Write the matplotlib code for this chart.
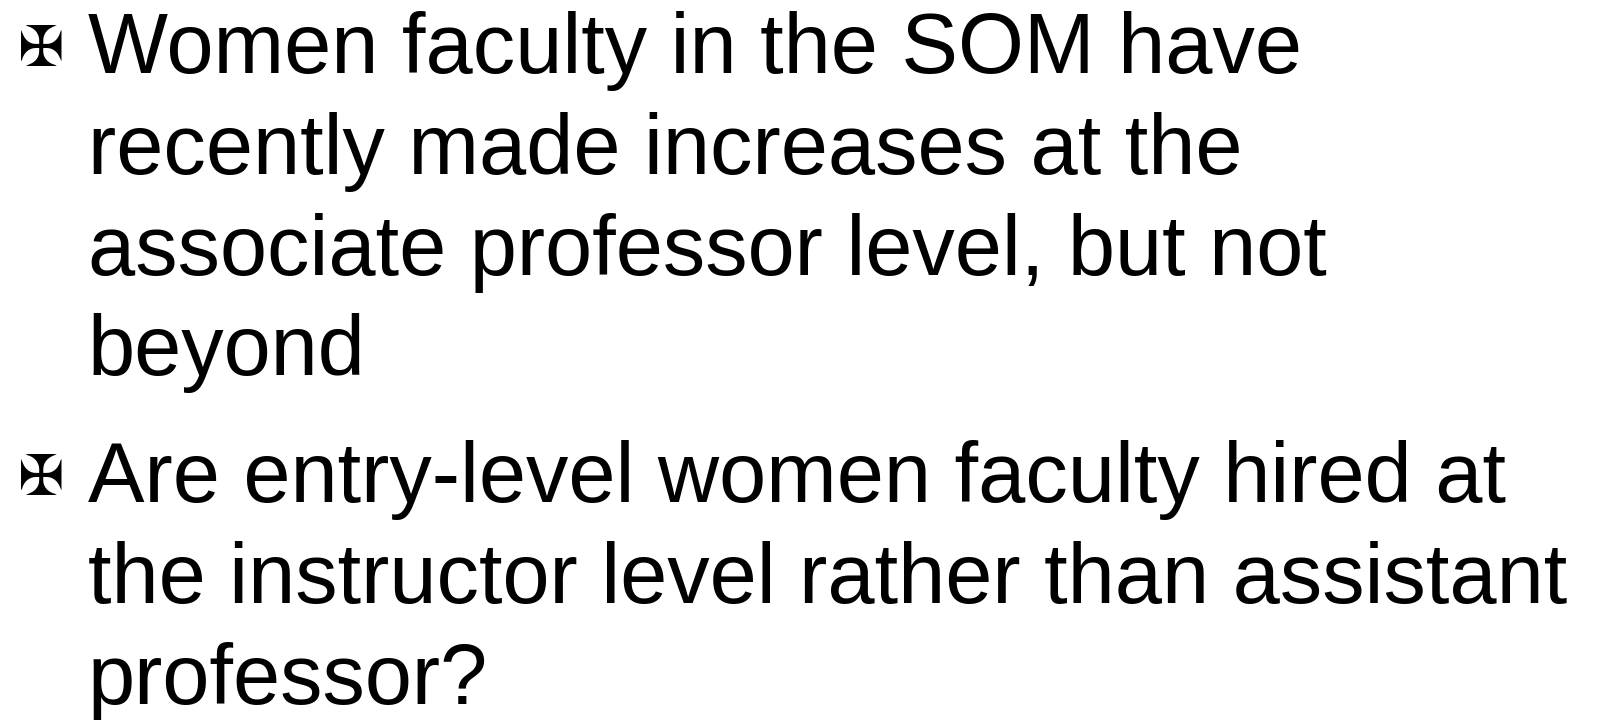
import matplotlib
matplotlib.use("Agg")
from matplotlib import pyplot as plt

bullets = [
    ["Women faculty in the SOM have",
     "recently made increases at the",
     "associate professor level, but not",
     "beyond"],
    ["Are entry-level women faculty hired at",
     "the instructor level rather than assistant",
     "professor?"],
]
baselines = [73, 174, 275, 375, 502, 603, 704]  # pixels from top

W, H = 1608, 720
fig = plt.figure(figsize=(W / 100, H / 100), dpi=100)
fig.patch.set_facecolor("white")

i = 0
for lines in bullets:
    # bullet glyph, drawn next to the first line
    fig.text(18 / W, 1 - (baselines[i] - 7) / H, "\u2720", fontsize=40,
             family="DejaVu Sans", ha="left", va="baseline", color="black")
    for line in lines:
        fig.text(88 / W, 1 - baselines[i] / H, line, fontsize=61,
                 family="Liberation Sans", ha="left", va="baseline", color="black")
        i += 1

fig.savefig("out.png", dpi=100)
